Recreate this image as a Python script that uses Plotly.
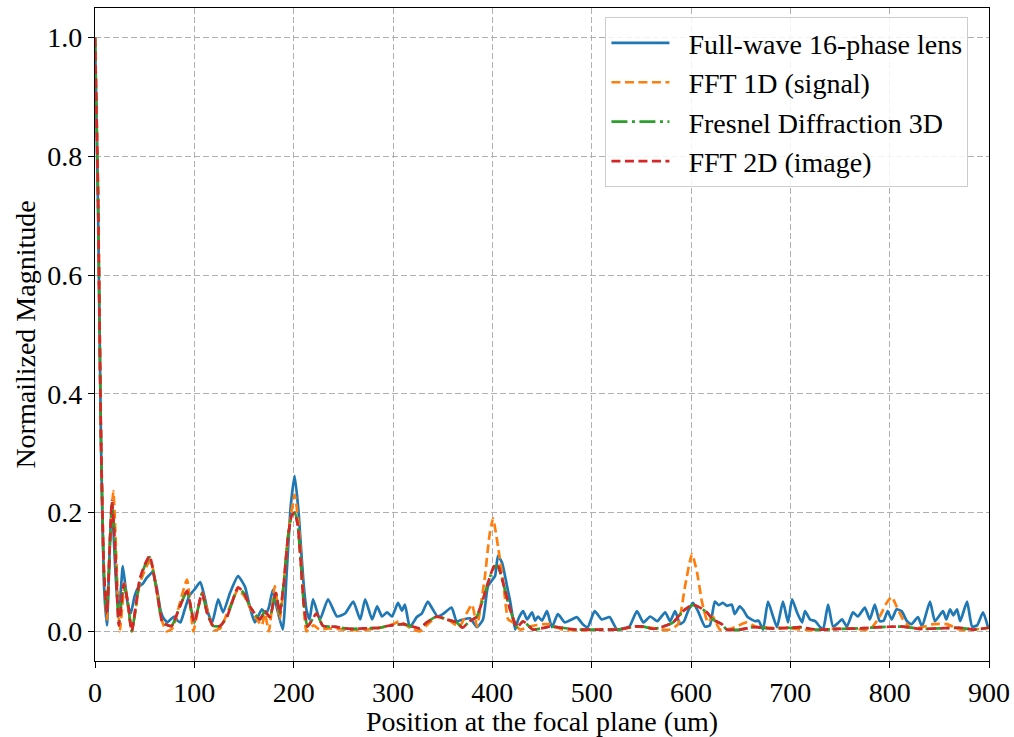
import plotly.graph_objects as go

# ---------------- data ----------------
fullwave_x = [0, 3, 6, 9, 12, 15, 17, 20, 23, 25, 28, 31, 33, 36, 40, 44, 48, 52, 55, 58, 62, 66, 69, 73, 76, 80,
              83, 86, 90, 95, 100, 106, 110, 114, 118, 124, 129, 136, 144, 151, 156, 161, 168, 172, 175, 179, 183,
              189, 193, 197, 201, 205, 207, 210, 213, 216, 219.5, 226.5, 234.6, 243.6, 251.7, 260, 267, 272, 279,
              284, 289, 294, 299, 305, 309, 312, 317, 324, 329, 335, 340, 345, 351, 359, 364, 370.5, 377.5, 384.6,
              390.6, 395.6, 402.7, 405.7, 409.7, 414.8, 418, 423, 426, 431, 435, 440, 443, 446, 450, 455, 460,
              466, 473, 480, 485, 491, 496, 503, 510, 514, 518, 525.5, 532, 538, 545.6, 552, 559, 566, 574, 579,
              584, 589, 593, 597, 602, 607, 614, 619, 624, 628, 632, 636, 641, 644, 649, 653, 657, 664.5, 668,
              672.5, 677.5, 682.6, 686.6, 692.6, 697.7, 701.7, 706.7, 711.8, 714.8, 719.8, 725, 730, 733, 738,
              743, 748, 752, 757, 763, 768, 775, 780, 785, 790, 794, 798, 802, 807, 812, 817.5, 822, 828.5,
              832.6, 840.6, 845.6, 853.7, 857, 860.8, 864, 867.8, 871, 877.9, 883, 888, 894, 899]
fullwave_y = [1.0, 0.72, 0.32, 0.08, 0.01, 0.15, 0.215, 0.12, 0.04, 0.05, 0.11, 0.07, 0.045, 0.03, 0.06, 0.075,
              0.08, 0.09, 0.095, 0.1, 0.075, 0.035, 0.022, 0.015, 0.02, 0.025, 0.018, 0.015, 0.035, 0.06, 0.07,
              0.083, 0.06, 0.03, 0.015, 0.054, 0.032, 0.065, 0.093, 0.075, 0.04, 0.015, 0.037, 0.03, 0.04, 0.07,
              0.04, 0.003, 0.1, 0.21, 0.262, 0.2, 0.15, 0.08, 0.035, 0.02, 0.054, 0.02, 0.054, 0.025, 0.03, 0.05,
              0.02, 0.054, 0.02, 0.042, 0.025, 0.032, 0.025, 0.048, 0.035, 0.045, 0.007, 0.024, 0.03, 0.05,
              0.037, 0.025, 0.03, 0.04, 0.017, 0.02, 0.022, 0.007, 0.02, 0.076, 0.093, 0.127, 0.116, 0.076,
              0.05, 0.003, 0.02, 0.034, 0.02, 0.032, 0.018, 0.025, 0.018, 0.034, 0.007, 0.029, 0.015, 0.02,
              0.024, 0.012, 0.007, 0.034, 0.02, 0.022, 0.024, 0.003, 0.005, 0.008, 0.034, 0.015, 0.025, 0.017,
              0.032, 0.017, 0.034, 0.012, 0.017, 0.034, 0.048, 0.034, 0.008, 0.01, 0.05, 0.044, 0.048, 0.043,
              0.045, 0.029, 0.042, 0.035, 0.024, 0.017, 0.018, 0.003, 0.05, 0.025, 0.007, 0.05, 0.015, 0.054,
              0.032, 0.015, 0.034, 0.02, 0.017, 0.007, 0.003, 0.045, 0.008, 0.014, 0.02, 0.008, 0.032, 0.025,
              0.04, 0.02, 0.045, 0.017, 0.018, 0.034, 0.02, 0.037, 0.034, 0.017, 0.012, 0.024, 0.008, 0.05,
              0.017, 0.034, 0.02, 0.037, 0.027, 0.037, 0.017, 0.05, 0.008, 0.01, 0.032, 0.007]

fft1d_x = [0, 3, 6, 9, 12, 15, 18.5, 22, 25, 30, 37, 45, 52, 56, 62, 67, 72, 78, 85, 92.6, 99, 104, 108, 114,
           120, 126, 133, 144, 150, 156, 163, 168, 171, 175, 181, 186, 190, 195, 201, 205, 209, 213, 220, 226,
           235, 250, 265, 280, 290, 300, 307, 318, 327, 335, 344, 355, 367, 374, 379.5, 384.6, 388, 392.6, 397,
           400.7, 405.7, 411, 416, 421, 428, 437, 451, 458, 470, 490, 510, 530, 545, 560, 570, 579, 587, 594,
           601, 606, 611, 617, 622, 629, 640, 656, 665, 680, 700, 720, 740, 760, 780, 790, 797, 802, 807, 813.5,
           820.5, 830, 843.6, 857.7, 870, 885, 900]
fft1d_y = [1.0, 0.75, 0.33, 0.1, 0.02, 0.15, 0.236, 0.1, 0.0, 0.08, 0.0, 0.08, 0.11, 0.12, 0.07, 0.02, 0.0,
           0.005, 0.045, 0.087, 0.0, 0.04, 0.065, 0.03, 0.002, 0.005, 0.03, 0.07, 0.06, 0.04, 0.02, 0.01, 0.03,
           0.0, 0.076, 0.02, 0.08, 0.17, 0.23, 0.18, 0.08, 0.0, 0.01, 0.003, 0.005, 0.003, 0.002, 0.004, 0.007,
           0.012, 0.017, 0.005, 0.0, 0.012, 0.024, 0.02, 0.008, 0.03, 0.045, 0.008, 0.04, 0.093, 0.16, 0.19,
           0.143, 0.082, 0.02, 0.015, 0.003, 0.008, 0.012, 0.012, 0.003, 0.002, 0.003, 0.004, 0.008, 0.006,
           0.003, 0.003, 0.012, 0.076, 0.13, 0.1, 0.05, 0.015, 0.025, 0.003, 0.004, 0.015, 0.008, 0.006, 0.005,
           0.002, 0.004, 0.005, 0.003, 0.025, 0.048, 0.058, 0.042, 0.02, 0.007, 0.006, 0.012, 0.012, 0.003,
           0.003, 0.006]

fresnel_x = [0, 3, 6, 9, 12, 17, 20, 24, 29, 33, 37, 45, 50, 55, 63, 68, 77, 85, 92.6, 100, 107.7, 113, 119,
             126, 133, 144, 150, 156, 166, 171, 176, 182, 186, 190, 194, 198, 201, 204, 207, 210, 214, 223,
             229.5, 240, 257, 270, 287, 294, 310, 320, 327, 334, 344, 354, 364, 370, 377, 384, 390.6, 397.7,
             402.7, 406, 410.8, 417.8, 425, 431, 441, 458, 470, 485, 510, 528, 541.6, 552, 562, 572, 582, 592,
             602, 609, 616, 622, 631, 636, 650, 662.5, 680, 700, 710, 725, 750, 770, 790, 813, 830, 850, 870,
             885, 900]
fresnel_y = [1.0, 0.74, 0.33, 0.1, 0.03, 0.215, 0.15, 0.015, 0.078, 0.05, 0.0, 0.085, 0.11, 0.125, 0.06, 0.015,
             0.009, 0.04, 0.067, 0.015, 0.064, 0.03, 0.009, 0.009, 0.025, 0.073, 0.064, 0.042, 0.02, 0.034,
             0.024, 0.064, 0.03, 0.08, 0.155, 0.195, 0.2, 0.18, 0.12, 0.05, 0.008, 0.03, 0.009, 0.008, 0.004,
             0.005, 0.006, 0.009, 0.012, 0.008, 0.005, 0.015, 0.025, 0.02, 0.015, 0.006, 0.017, 0.024, 0.054,
             0.092, 0.11, 0.108, 0.082, 0.037, 0.007, 0.017, 0.003, 0.008, 0.006, 0.003, 0.003, 0.003, 0.008,
             0.008, 0.004, 0.008, 0.015, 0.034, 0.044, 0.04, 0.032, 0.02, 0.012, 0.003, 0.003, 0.007, 0.005,
             0.006, 0.007, 0.003, 0.004, 0.005, 0.007, 0.008, 0.004, 0.005, 0.006, 0.003, 0.006]

fft2d_x = [0, 3, 6, 9, 12, 17, 20, 24, 29, 33, 37, 45, 50, 55, 63, 68, 77, 85, 92.6, 100, 107.7, 113, 119,
           126, 133, 144, 150, 156, 166, 171, 176, 182, 186, 190, 194, 198, 201, 204, 207, 210, 214, 223, 229.5,
           240, 257, 270, 287, 294, 310, 320, 327, 334, 344, 354, 364, 370, 377, 384, 390.6, 397.7, 402.7, 406,
           410.8, 417.8, 425, 431, 441, 458, 470, 485, 510, 528, 541.6, 552, 562, 572, 582, 592, 602, 609, 616,
           622, 631, 636, 650, 662.5, 680, 700, 710, 725, 750, 770, 790, 813, 830, 850, 870, 885, 900]
fft2d_y = [1.0, 0.74, 0.33, 0.1, 0.03, 0.22, 0.15, 0.01, 0.08, 0.05, 0.0, 0.088, 0.112, 0.127, 0.06, 0.015,
           0.009, 0.04, 0.068, 0.015, 0.065, 0.03, 0.009, 0.009, 0.025, 0.074, 0.065, 0.042, 0.02, 0.034, 0.024,
           0.065, 0.03, 0.08, 0.155, 0.195, 0.2, 0.18, 0.12, 0.05, 0.008, 0.03, 0.009, 0.008, 0.004, 0.005,
           0.006, 0.009, 0.012, 0.008, 0.005, 0.015, 0.025, 0.02, 0.015, 0.006, 0.017, 0.024, 0.054, 0.093,
           0.113, 0.11, 0.082, 0.037, 0.007, 0.017, 0.003, 0.008, 0.006, 0.003, 0.003, 0.003, 0.008, 0.008,
           0.004, 0.008, 0.015, 0.034, 0.045, 0.04, 0.032, 0.02, 0.012, 0.003, 0.003, 0.007, 0.005, 0.006,
           0.007, 0.003, 0.004, 0.005, 0.007, 0.008, 0.004, 0.005, 0.006, 0.003, 0.006]

series_names = ["Full-wave 16-phase lens", "FFT 1D (signal)", "Fresnel Diffraction 3D", "FFT 2D (image)"]
x_ticks = [0, 100, 200, 300, 400, 500, 600, 700, 800, 900]
y_ticks = [0.0, 0.2, 0.4, 0.6, 0.8, 1.0]
y_tick_text = ["0.0", "0.2", "0.4", "0.6", "0.8", "1.0"]

# ---------------- figure ----------------
FONT = "Liberation Serif, Times New Roman, serif"
LW = 2.7
PAD = "\u00a0\u00a0"  # visual gap between legend line and label, as in the reference
fig = go.Figure()
fig.add_trace(go.Scatter(x=fullwave_x, y=fullwave_y, mode="lines", name=PAD + series_names[0],
                         line=dict(color="#1f77b4", width=LW, shape="spline", smoothing=0.5)))
fig.add_trace(go.Scatter(x=fft1d_x, y=fft1d_y, mode="lines", name=PAD + series_names[1],
                         line=dict(color="#ff7f0e", width=LW, dash="9px,4.5px", shape="spline", smoothing=0.5)))
fig.add_trace(go.Scatter(x=fresnel_x, y=fresnel_y, mode="lines", name=PAD + series_names[2],
                         line=dict(color="#2ca02c", width=LW, dash="16px,4.5px,3px,4.5px", shape="spline",
                                   smoothing=0.5)))
fig.add_trace(go.Scatter(x=fft2d_x, y=fft2d_y, mode="lines", name=PAD + series_names[3],
                         line=dict(color="#d62728", width=LW, dash="9px,4.5px", shape="spline", smoothing=0.5)))

axis_common = dict(showline=True, linecolor="black", linewidth=1.3, mirror=True,
                   ticks="outside", ticklen=6, tickwidth=1.3, tickcolor="black",
                   showgrid=True, gridcolor="#b0b0b0", gridwidth=1.1, griddash="6px,3px",
                   zeroline=False, tickfont=dict(family=FONT, size=28, color="black"))

fig.update_xaxes(range=[0, 900], tickvals=x_ticks,
                 title=dict(text="Position at the focal plane (um)", font=dict(family=FONT, size=28, color="black"),
                            standoff=3),
                 **axis_common)
fig.update_yaxes(range=[-0.05, 1.05], tickvals=y_ticks, ticktext=y_tick_text,
                 title=dict(text="Normailized Magnitude", font=dict(family=FONT, size=28, color="black"),
                            standoff=3),
                 **axis_common)

fig.update_layout(
    width=1014, height=737,
    margin=dict(l=95, r=25, t=8, b=76, autoexpand=False),
    plot_bgcolor="white", paper_bgcolor="white",
    font=dict(family=FONT, size=28, color="black"),
    showlegend=True,
    legend=dict(x=0.977, xanchor="right", y=0.986, yanchor="top",
                bgcolor="rgba(255,255,255,0.85)", bordercolor="#cccccc", borderwidth=1,
                font=dict(family=FONT, size=28, color="black"), itemwidth=58,
                tracegroupgap=0),
)

fig.write_html("out.html")
